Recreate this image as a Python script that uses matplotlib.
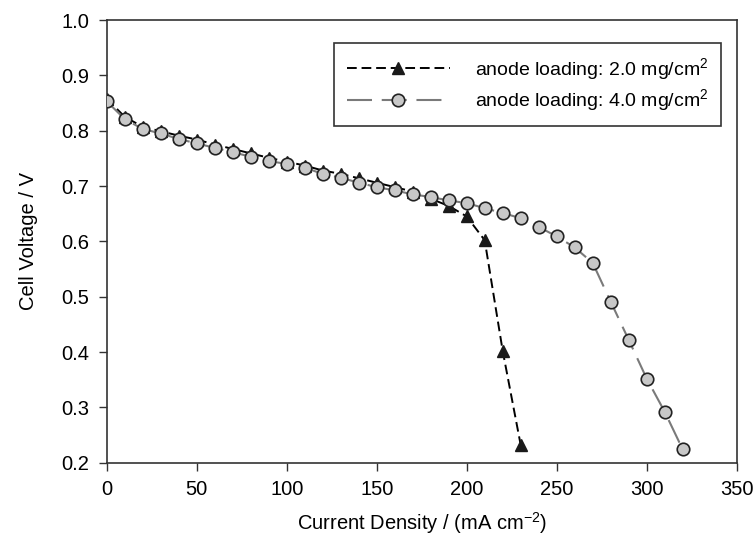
import matplotlib
matplotlib.use("Agg")
import matplotlib.pyplot as plt

plt.rcParams['font.family'] = ['Liberation Sans', 'DejaVu Sans']
plt.rcParams['lines.scale_dashes'] = False
plt.rcParams['mathtext.fontset'] = 'custom'
plt.rcParams['mathtext.rm'] = 'Liberation Sans'
plt.rcParams['mathtext.it'] = 'Liberation Sans'

# Data
current_2 = [0, 10, 20, 30, 40, 50, 60, 70, 80, 90, 100, 110, 120, 130, 140, 150,
             160, 170, 180, 190, 200, 210, 220, 230]
voltage_2 = [0.858, 0.825, 0.807, 0.799, 0.791, 0.784, 0.775, 0.767, 0.759, 0.751,
             0.744, 0.737, 0.728, 0.722, 0.714, 0.706, 0.698, 0.690, 0.677, 0.664,
             0.645, 0.602, 0.402, 0.232]

current_4 = [0, 10, 20, 30, 40, 50, 60, 70, 80, 90, 100, 110, 120, 130, 140, 150,
             160, 170, 180, 190, 200, 210, 220, 230, 240, 250, 260, 270, 280, 290,
             300, 310, 320]
voltage_4 = [0.853, 0.821, 0.803, 0.795, 0.785, 0.777, 0.769, 0.761, 0.753, 0.745,
             0.740, 0.733, 0.722, 0.715, 0.706, 0.698, 0.692, 0.685, 0.680, 0.674,
             0.669, 0.660, 0.651, 0.642, 0.626, 0.609, 0.589, 0.561, 0.491, 0.422,
             0.352, 0.292, 0.224]

labels = ['anode loading: 2.0 mg/cm$^2$', 'anode loading: 4.0 mg/cm$^2$']
xticks = [0, 50, 100, 150, 200, 250, 300, 350]
yticks = [0.2, 0.3, 0.4, 0.5, 0.6, 0.7, 0.8, 0.9, 1.0]

fig = plt.figure(figsize=(7.55, 5.38), dpi=100)
ax = fig.add_axes([106.7 / 755, 1 - 462.7 / 538, 630 / 755, 442.7 / 538])

ax.plot(current_2, voltage_2, color='black', linewidth=1.4, dashes=(7, 3.5),
        marker='^', markersize=9, markerfacecolor='#1a1a1a',
        markeredgecolor='#1a1a1a', label=labels[0], zorder=2)
ax.plot(current_4, voltage_4, color='#7a7a7a', linewidth=1.5, dashes=(18, 7),
        marker='o', markersize=9, markerfacecolor='#c8c8c8',
        markeredgecolor='#222222', markeredgewidth=1.2, label=labels[1], zorder=3)

ax.set_xlim(0, 350)
ax.set_ylim(0.2, 1.0)
ax.set_xticks(xticks)
ax.set_yticks(yticks)
ax.set_xticklabels([str(t) for t in xticks])
ax.set_yticklabels([f'{t:.1f}' for t in yticks])
ax.tick_params(direction='out', length=5.5, width=1.0, labelsize=14.5, pad=7,
               color='#333333')
for s in ax.spines.values():
    s.set_linewidth(1.2)
    s.set_color('#333333')

ax.set_xlabel('Current Density / (mA cm$^{\\mathrm{-2}}$)', fontsize=14.5, labelpad=8)
ax.set_ylabel('Cell Voltage / V', fontsize=14.5, labelpad=17)

leg = ax.legend(loc='upper right', bbox_to_anchor=(0.975, 0.948),
                borderaxespad=0, fontsize=14, handlelength=5.3,
                handletextpad=1.3, labelspacing=0.3, borderpad=0.65,
                fancybox=False, framealpha=1, edgecolor='#333333')
leg.get_frame().set_linewidth(1.2)

fig.savefig('out.png', dpi=100)
